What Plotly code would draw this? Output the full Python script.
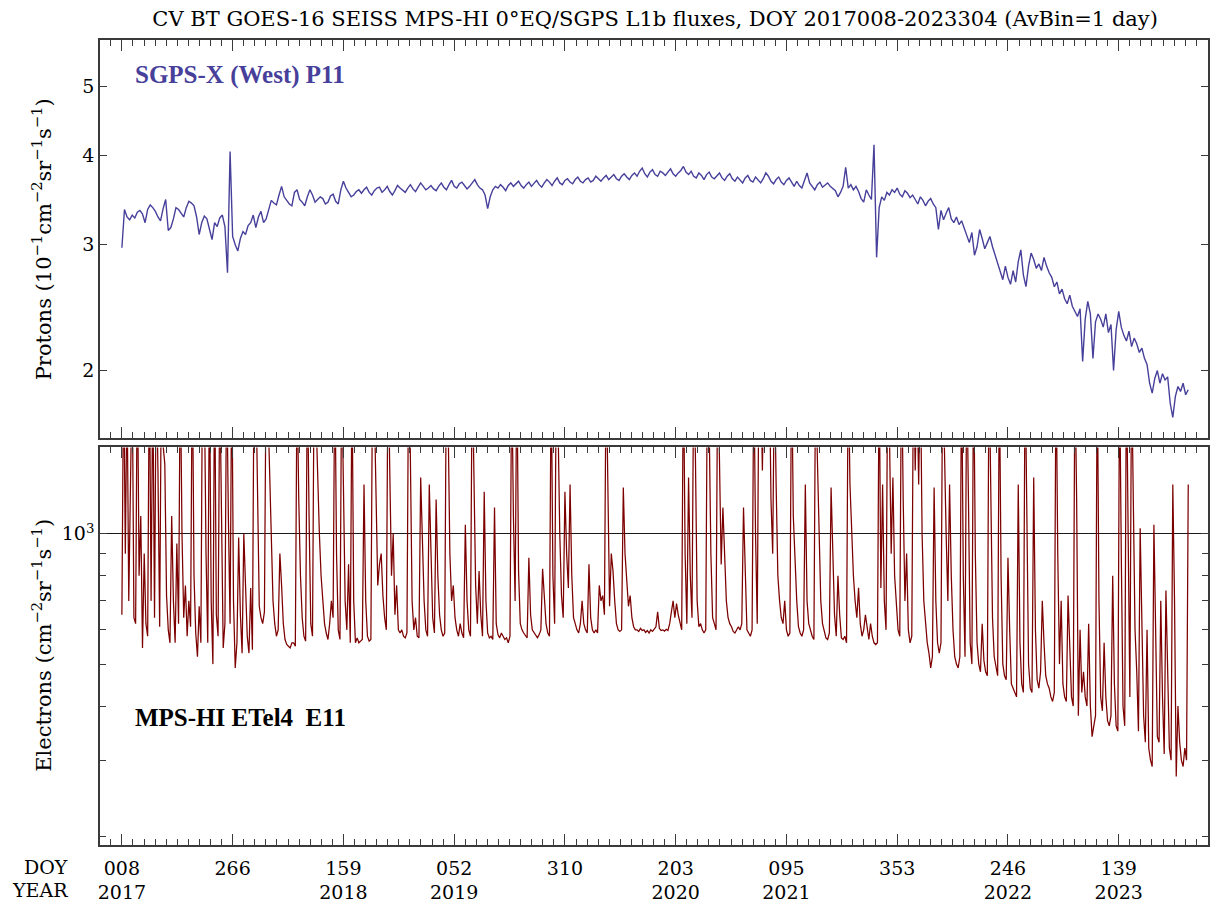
import math
import plotly.graph_objects as go

# Time axis: day index 0 is 2017 DOY 008, last sample is 2023 DOY 304
PROTON_STEP_DAYS = 6
ELECTRON_STEP_DAYS = 4
TICK_SPACING_DAYS = 258

# SGPS-X (West) P11 proton flux, units of 10^-1 cm^-2 sr^-1 s^-1
proton_flux = [
    2.97, 3.36, 3.28, 3.25, 3.30, 3.27, 3.33, 3.35, 3.31, 3.22, 3.36, 3.41, 3.38, 3.34, 3.28, 3.24, 3.37, 3.47, 3.14, 3.17,
    3.26, 3.38, 3.36, 3.32, 3.28, 3.38, 3.45, 3.43, 3.40, 3.28, 3.10, 3.22, 3.29, 3.26, 3.14, 3.05, 3.22, 3.18, 3.27, 3.30,
    3.18, 2.74, 4.05, 3.08, 3.00, 2.94, 3.06, 3.13, 3.10, 3.19, 3.22, 3.30, 3.17, 3.28, 3.34, 3.22, 3.26, 3.36, 3.46, 3.43,
    3.41, 3.52, 3.62, 3.50, 3.46, 3.42, 3.40, 3.55, 3.58, 3.47, 3.44, 3.40, 3.50, 3.58, 3.52, 3.44, 3.47, 3.50, 3.48, 3.42,
    3.44, 3.51, 3.53, 3.45, 3.42, 3.58, 3.68, 3.60, 3.55, 3.50, 3.52, 3.56, 3.58, 3.54, 3.58, 3.61, 3.55, 3.52, 3.57, 3.60,
    3.61, 3.55, 3.58, 3.62, 3.56, 3.52, 3.57, 3.63, 3.60, 3.58, 3.55, 3.60, 3.64, 3.59, 3.56, 3.61, 3.66, 3.62, 3.58, 3.60,
    3.63, 3.59, 3.57, 3.62, 3.66, 3.61, 3.58, 3.64, 3.69, 3.62, 3.60, 3.65, 3.67, 3.63, 3.59, 3.62, 3.66, 3.70, 3.64, 3.60,
    3.58, 3.52, 3.37, 3.50, 3.58, 3.62, 3.60, 3.64, 3.61, 3.57, 3.63, 3.66, 3.62, 3.65, 3.68, 3.63, 3.60, 3.64, 3.67, 3.62,
    3.65, 3.69, 3.64, 3.61, 3.66, 3.70, 3.67, 3.63, 3.68, 3.72, 3.66, 3.64, 3.69, 3.71, 3.67, 3.65, 3.70, 3.73, 3.68, 3.66,
    3.70, 3.72, 3.67, 3.69, 3.74, 3.71, 3.68, 3.72, 3.75, 3.70, 3.73, 3.76, 3.71, 3.69, 3.74, 3.77, 3.73, 3.70, 3.75, 3.78,
    3.74, 3.80, 3.84, 3.77, 3.73, 3.79, 3.82, 3.76, 3.74, 3.80, 3.78, 3.75, 3.79, 3.83, 3.77, 3.74, 3.78, 3.81, 3.86, 3.79,
    3.76, 3.80, 3.74, 3.72, 3.78, 3.75, 3.70, 3.76, 3.79, 3.73, 3.71, 3.75, 3.78, 3.72, 3.69, 3.74, 3.77, 3.71, 3.68, 3.73,
    3.70, 3.66, 3.72, 3.75, 3.69, 3.67, 3.73, 3.70, 3.66, 3.71, 3.78, 3.74, 3.68, 3.65, 3.70, 3.73, 3.67, 3.64, 3.69, 3.72,
    3.66, 3.62, 3.68, 3.63, 3.60, 3.70, 3.78, 3.66, 3.62, 3.58, 3.64, 3.67, 3.61, 3.63, 3.66, 3.62, 3.59, 3.57, 3.50, 3.55,
    3.62, 3.85, 3.60, 3.64, 3.58, 3.62, 3.56, 3.48, 3.44, 3.58, 3.52, 3.47, 4.14, 2.88, 3.38, 3.50, 3.46, 3.55, 3.52, 3.58,
    3.55, 3.60, 3.53, 3.50, 3.57, 3.54, 3.49, 3.52, 3.47, 3.42, 3.50, 3.46, 3.40, 3.45, 3.48, 3.42, 3.38, 3.15, 3.35, 3.25,
    3.32, 3.38, 3.26, 3.22, 3.28, 3.20, 3.24, 3.16, 3.08, 3.02, 3.12, 2.90, 2.98, 3.15, 3.06, 2.96, 3.02, 3.08, 2.98, 2.90,
    2.82, 2.74, 2.68, 2.80, 2.70, 2.64, 2.76, 2.66, 2.84, 2.95, 2.72, 2.62, 2.80, 2.92, 2.86, 2.78, 2.82, 2.76, 2.88, 2.80,
    2.74, 2.70, 2.62, 2.66, 2.56, 2.60, 2.52, 2.48, 2.55, 2.46, 2.42, 2.38, 2.44, 2.06, 2.36, 2.50, 2.40, 2.08, 2.34, 2.40,
    2.36, 2.30, 2.40, 2.26, 2.32, 2.00, 2.28, 2.42, 2.30, 2.24, 2.20, 2.27, 2.16, 2.22, 2.18, 2.12, 2.15, 2.08, 2.04, 1.92,
    1.86, 1.95, 2.00, 1.92, 1.98, 1.94, 1.96, 1.80, 1.72, 1.84, 1.90, 1.87, 1.92, 1.85, 1.88,
]

# MPS-HI ETel4 E11 electron flux, cm^-2 sr^-1 s^-1
electron_flux = [
    650, 2500, 900, 2200, 700, 1300, 2400, 640, 620, 2600, 800, 1100, 545, 900, 620, 580, 2600, 700, 2300, 640,
    2500, 1400, 610, 2400, 1600, 1450, 720, 600, 560, 1100, 700, 560, 950, 620, 2500, 1000, 640, 760, 580, 700,
    610, 2600, 800, 590, 520, 680, 560, 2700, 2200, 900, 560, 2400, 700, 500, 2500, 650, 580, 2300, 1000, 545,
    620, 2400, 1100, 620, 2500, 700, 490, 560, 980, 650, 530, 1000, 760, 580, 530, 750, 540, 2600, 2300, 1300,
    680, 640, 620, 660, 2500, 2000, 1400, 900, 700, 620, 580, 600, 900, 760, 620, 570, 555, 550, 545, 560,
    560, 550, 2300, 1200, 800, 640, 580, 565, 2400, 1100, 620, 580, 2600, 1900, 1300, 1000, 800, 700, 620, 590,
    570, 620, 700, 640, 2500, 900, 600, 570, 2400, 1300, 700, 600, 850, 560, 2300, 700, 560, 575, 560, 565,
    570, 1300, 700, 580, 565, 570, 2500, 2000, 1200, 760, 850, 900, 720, 640, 600, 2600, 1400, 800, 1000, 650,
    760, 600, 590, 600, 580, 575, 590, 2600, 1500, 700, 600, 640, 580, 575, 1350, 900, 700, 600, 580, 1300,
    900, 640, 590, 1200, 800, 650, 600, 580, 590, 2600, 1800, 900, 700, 760, 640, 600, 580, 620, 590, 575,
    1050, 700, 600, 580, 2500, 1400, 760, 620, 820, 650, 580, 1250, 700, 590, 575, 580, 570, 1150, 620, 585,
    575, 590, 580, 570, 575, 560, 580, 2400, 1100, 700, 2500, 820, 620, 600, 590, 580, 575, 880, 650, 600,
    590, 580, 575, 585, 600, 830, 700, 620, 590, 580, 2400, 800, 620, 2500, 1800, 1000, 720, 640, 1250, 900,
    750, 1300, 800, 640, 620, 600, 590, 620, 700, 620, 600, 590, 850, 640, 600, 590, 600, 590, 760, 700,
    720, 650, 2500, 1300, 680, 900, 820, 700, 620, 600, 595, 600, 1280, 900, 760, 680, 720, 640, 610, 600,
    600, 595, 605, 598, 600, 592, 598, 590, 600, 595, 602, 610, 660, 605, 598, 600, 596, 602, 598, 620,
    660, 700, 640, 690, 650, 620, 600, 2500, 900, 620, 1350, 800, 640, 2400, 1500, 700, 610, 620, 600, 590,
    600, 2500, 1800, 900, 640, 620, 600, 2600, 1500, 850, 1150, 900, 700, 640, 620, 610, 595, 590, 600, 610,
    600, 620, 1150, 760, 600, 590, 580, 600, 2400, 1000, 620, 2500, 2300, 1400, 2600, 2200, 1600, 2500, 1200, 900,
    2400, 1300, 800, 700, 640, 620, 700, 600, 580, 590, 2500, 1100, 850, 700, 610, 590, 580, 600, 1300, 700,
    620, 600, 580, 570, 2500, 1500, 950, 700, 620, 600, 575, 570, 590, 1280, 900, 650, 580, 800, 650, 575,
    570, 580, 560, 2500, 1300, 1000, 800, 700, 640, 750, 620, 580, 600, 650, 600, 570, 620, 580, 560, 555,
    560, 2400, 750, 1300, 700, 600, 2500, 1700, 900, 1350, 800, 700, 600, 580, 2600, 1200, 700, 900, 600, 560,
    580, 2500, 1400, 2300, 1300, 2400, 1000, 700, 620, 560, 530, 490, 520, 1280, 700, 560, 530, 560, 2500, 1500,
    1000, 700, 1300, 800, 600, 520, 500, 490, 520, 2500, 800, 520, 2400, 1200, 560, 500, 2500, 900, 560, 500,
    480, 620, 510, 480, 470, 2500, 1100, 640, 520, 490, 470, 2400, 800, 500, 470, 460, 880, 600, 450, 440,
    430, 420, 1300, 560, 450, 430, 2500, 1000, 500, 440, 430, 1350, 600, 460, 440, 480, 700, 560, 470, 450,
    440, 420, 410, 430, 2500, 900, 500, 700, 450, 420, 410, 720, 520, 420, 400, 2400, 1200, 380, 600, 430,
    480, 420, 400, 620, 400, 340, 360, 380, 2500, 700, 420, 390, 560, 420, 370, 360, 380, 800, 450, 360,
    350, 2400, 900, 400, 360, 2500, 1000, 420, 2400, 1050, 600, 480, 350, 1030, 600, 380, 330, 600, 320, 300,
    290, 1050, 600, 340, 330, 700, 420, 310, 740, 450, 320, 300, 1300, 700, 275, 400, 330, 300, 290, 320,
    300, 1300,
]

# Major time ticks (every 258 days)
tick_doy = ["008", "266", "159", "052", "310", "203", "095", "353", "246", "139"]
tick_year = ["2017", "", "2018", "2019", "", "2020", "2021", "", "2022", "2023"]

proton_tick_vals = [2, 3, 4, 5]
electron_minor_vals = [200, 300, 400, 500, 600, 700, 800, 900]

proton_days = [i * PROTON_STEP_DAYS for i in range(len(proton_flux))]
electron_days = [i * ELECTRON_STEP_DAYS for i in range(len(electron_flux))]

SERIF = "DejaVu Serif"
BOLD_SERIF = "Liberation Serif"
PROTON_COLOR = "#47409a"
ELECTRON_COLOR = "#7d0000"
FRAME = "#3a3a3a"

fig = go.Figure()
fig.add_trace(go.Scatter(
    x=proton_days, y=proton_flux, mode="lines",
    line=dict(color=PROTON_COLOR, width=1.4),
    xaxis="x", yaxis="y", hoverinfo="skip",
))
fig.add_trace(go.Scatter(
    x=electron_days, y=electron_flux, mode="lines",
    line=dict(color=ELECTRON_COLOR, width=1.25),
    xaxis="x2", yaxis="y2", hoverinfo="skip",
))

tick_vals = [k * TICK_SPACING_DAYS for k in range(len(tick_doy))]
tick_text = [f"{d}<br>{y}" if y else d for d, y in zip(tick_doy, tick_year)]

common_x = dict(
    range=[-51, 2530], showline=True, linecolor=FRAME, linewidth=1.5,
    mirror="ticks", ticks="inside", ticklen=11, tickcolor=FRAME, tickwidth=1.2,
    tickvals=tick_vals, showgrid=False, zeroline=False,
    minor=dict(ticks="inside", ticklen=6, dtick=TICK_SPACING_DAYS / 10, tick0=0,
               tickcolor=FRAME, tickwidth=1, showgrid=False),
)

common_y = dict(
    type="log", showline=True, linecolor=FRAME, linewidth=1.5, mirror="ticks",
    ticks="inside", tickcolor=FRAME, tickwidth=1.2, zeroline=False,
    tickfont=dict(family=SERIF, size=19, color="black"),
)

fig.update_layout(
    width=1211, height=904,
    margin=dict(l=100, r=1, t=40, b=56),
    paper_bgcolor="white", plot_bgcolor="white", showlegend=False,
    xaxis=dict(**common_x, anchor="y", showticklabels=False),
    xaxis2=dict(**common_x, anchor="y2", ticktext=tick_text, ticklabelstandoff=5,
                tickfont=dict(family=SERIF, size=19, color="black")),
    yaxis=dict(**common_y, domain=[0.5062, 1.0], anchor="x",
               range=[math.log10(1.612), math.log10(5.80)],
               tickvals=proton_tick_vals, ticklen=7, showgrid=False),
    yaxis2=dict(**common_y, domain=[0.0, 0.4938], anchor="x2",
                range=[math.log10(191), math.log10(1583)],
                tickvals=[1000], ticktext=["10<sup>3</sup>"], ticklen=7,
                showgrid=True, gridcolor="#1a1a1a", gridwidth=1.2,
                minor=dict(tickmode="array", tickvals=electron_minor_vals,
                           ticks="inside", ticklen=6, tickcolor=FRAME, showgrid=False)),
    title=dict(
        text="CV BT GOES-16 SEISS MPS-HI 0°EQ/SGPS L1b fluxes, DOY 2017008-2023304 (AvBin=1 day)",
        font=dict(family=SERIF, size=21, color="black"),
        x=0.541, xanchor="center", xref="container",
        y=1 - 19 / 904, yanchor="middle", yref="container",
    ),
)

annotations = [
    dict(text="<b>SGPS-X (West) P11</b>", x=0.0297, y=0.9567, xanchor="left", yanchor="middle",
         font=dict(family=BOLD_SERIF, size=25, color=PROTON_COLOR)),
    dict(text="<b>MPS-HI ETel4\u00a0\u00a0E11</b>", x=0.0297, y=0.1584, xanchor="left", yanchor="middle",
         font=dict(family=BOLD_SERIF, size=25, color="black")),
    dict(text="Protons (10<sup>\u22121</sup>cm<sup>\u22122</sup>sr<sup>\u22121</sup>s<sup>\u22121</sup>)",
         x=-0.0523, y=0.7525, textangle=-90, xanchor="center", yanchor="middle",
         font=dict(family=SERIF, size=21, color="black")),
    dict(text="Electrons (cm<sup>\u22122</sup>sr<sup>\u22121</sup>s<sup>\u22121</sup>)",
         x=-0.0523, y=0.2475, textangle=-90, xanchor="center", yanchor="middle",
         font=dict(family=SERIF, size=21, color="black")),
    dict(text="DOY", x=-0.027, y=-0.0272, xanchor="right", yanchor="middle",
         font=dict(family=SERIF, size=19, color="black")),
    dict(text="YEAR", x=-0.027, y=-0.0557, xanchor="right", yanchor="middle",
         font=dict(family=SERIF, size=19, color="black")),
]
for a in annotations:
    a.update(xref="paper", yref="paper", showarrow=False)
fig.update_layout(annotations=annotations)

fig.write_html("out.html")
